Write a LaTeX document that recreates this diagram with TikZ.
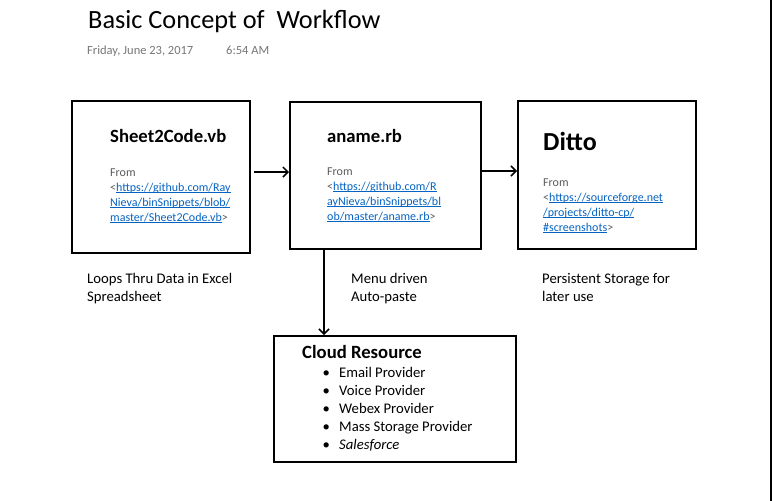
\documentclass[tikz,border=0pt]{standalone}
\usepackage{fontspec}
\setmainfont{Carlito}
\usetikzlibrary{arrows.meta}
\definecolor{linkblue}{HTML}{0563C1}
\definecolor{fromgray}{HTML}{595959}
\definecolor{dategray}{HTML}{767676}
\newcommand\lk[1]{\textcolor{linkblue}{\setbox0\hbox{#1}\rlap{\rule[-1.4pt]{\wd0}{0.7pt}}\box0}}
\newcommand\bul{\hbox to 22pt{\hskip 5.5pt\textbullet\hfil}}
\tikzset{
  box/.style={draw, line width=2pt, inner sep=0pt, minimum width=#1},
  txt/.style={inner sep=0pt, anchor=base west, align=left},
  fromtxt/.style={txt, font=\fontsize{12}{14.7}\selectfont, text=fromgray},
  lbl/.style={txt, font=\fontsize{14.7}{18}\selectfont},
  ttl/.style={txt, font=\fontsize{18.7}{22}\selectfont\bfseries},
  arr/.style={line width=1.5pt, -{Straight Barb[length=5pt,width=10pt,line width=1.5pt]}}
}
\begin{document}
\begin{tikzpicture}[x=1pt,y=-1pt]
\useasboundingbox (0,0) rectangle (772,501);
\draw[line width=1.5pt] (771,0) -- (771,501);
% title
\node[txt, font=\fontsize{26.3}{30}\selectfont] (title) at (88,28) {Basic Concept of \ Workflow};
\node[txt, font=\fontsize{12.5}{15}\selectfont, text=dategray] (date) at (87,54) {Friday, June 23, 2017};
\node[txt, font=\fontsize{12.5}{15}\selectfont, text=dategray] (time) at (226,54) {6:54 AM};
% boxes
\node[box=178pt, minimum height=152pt] (b1) at (161,177) {};
\node[box=191pt, minimum height=147pt] (b2) at (385.5,175.5) {};
\node[box=178pt, minimum height=148pt] (b3) at (607,175) {};
\node[box=242pt, minimum height=126pt] (b4) at (395,399) {};
% box 1 text
\node[ttl] (t1) at (110,142) {Sheet2Code.vb};
\node[fromtxt] (f1) at (110,221) {From\\
<\lk{https://github.com/Ray}\\
\lk{Nieva/binSnippets/blob/}\\
\lk{master/Sheet2Code.vb}>};
% box 2 text
\node[ttl] (t2) at (327,142) {aname.rb};
\node[fromtxt] (f2) at (327,220) {From\\
<\lk{https://github.com/R}\\
\lk{ayNieva/binSnippets/bl}\\
\lk{ob/master/aname.rb}>};
% box 3 text
\node[txt, font=\fontsize{26}{30}\selectfont\bfseries] (t3) at (543,150) {Ditto};
\node[fromtxt] (f3) at (543,231) {From\\
<\lk{https://sourceforge.net}\\
\lk{/projects/ditto-cp/}\\
\lk{\#screenshots}>};
% labels
\node[lbl] (l1) at (87,301) {Loops Thru Data in Excel\\Spreadsheet};
\node[lbl] (l2) at (351,301) {Menu driven\\Auto-paste};
\node[lbl] (l3) at (542,301) {Persistent Storage for\\later use};
% cloud box text
\node[ttl] (t4) at (302,358) {Cloud Resource};
\node[lbl] (items) at (317,449) {\bul Email Provider\\
\bul Voice Provider\\
\bul Webex Provider\\
\bul Mass Storage Provider\\
\bul\textit{Salesforce}};
% arrows
\draw[arr] ([xshift=3pt]b1.east |- 0,172) -- (b2.west |- 0,172);
\draw[arr] (b2.east |- 0,171) -- (b3.west |- 0,171);
\draw[arr] (b2.south -| 324,0) -- (b4.north -| 324,0);
\end{tikzpicture}
\end{document}
